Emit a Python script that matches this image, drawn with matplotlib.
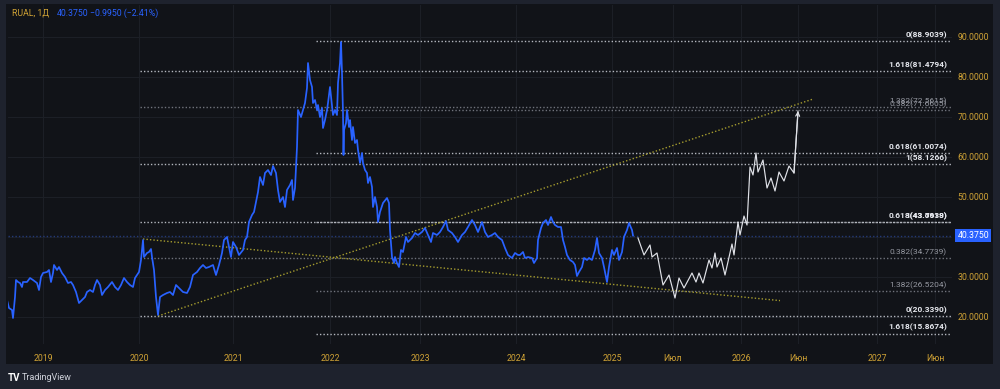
import matplotlib
matplotlib.use("Agg")
import matplotlib.pyplot as plt
from matplotlib.patches import Rectangle

plt.rcParams['font.family'] = ['Roboto', 'DejaVu Sans']

# ---------------- data ----------------
# time index (chart bar position units)
t_hist = [7, 9, 12, 13, 15, 16, 18, 20, 22, 23, 27, 30, 33, 37, 39, 41, 43, 47, 49, 51, 53, 54, 57, 59,
          62, 65, 68, 71, 73, 76, 79, 82, 85, 87, 90, 93, 95, 97, 100, 102, 105, 108, 112, 115, 118,
          121, 124, 127, 130, 133, 135, 137, 139, 141, 143, 144, 147, 149, 151, 152, 154, 156, 158,
          160, 163, 167, 170, 173, 176, 179, 183, 187, 190, 193, 197, 200, 203, 206, 209, 213, 216,
          219, 222, 224, 227, 229, 231, 233, 236, 239, 243, 245, 247, 249, 252, 254, 256, 258, 260,
          263, 265, 268, 271, 273, 276, 278, 280, 283, 285, 287, 290, 292, 293, 295, 297,
          298, 301, 303, 305, 307, 308, 310, 312, 313, 315, 317, 318, 320, 322, 323, 325, 327, 328,
          330, 332, 333, 335, 337, 338, 340, 341, 342, 343, 343.5, 344, 346, 347, 349, 350, 352, 353,
          355, 357, 358, 360, 362, 363, 365, 367, 368, 370, 372, 373, 375, 377, 378, 380, 383, 387,
          389, 390, 392, 394, 395, 397, 399, 401, 403, 406, 408, 412, 415, 418, 422, 425, 428, 431,
          433, 437, 440, 443, 446, 448, 452, 455, 458, 462, 465, 468, 472, 475, 478, 482, 485, 488,
          492, 495, 498, 502, 505, 508, 512, 515, 518, 520, 523, 525, 528, 532, 534, 537, 538, 541,
          543, 546, 548, 551, 553, 555, 558, 561, 563, 565, 567, 570, 573, 575, 577, 579, 582, 584,
          587, 589, 592, 595, 597, 599, 602, 604, 607, 609, 612, 614, 617, 619, 622, 624, 627, 629,
          632, 633]
price_hist = [24.25, 22.25, 21.75, 19.75, 25.0, 29.25, 28.75, 28.5, 27.5, 28.75, 28.75, 29.75, 29.25,
              28.5, 26.75, 30.0, 31.0, 31.25, 31.75, 28.75, 31.0, 33.0, 31.75, 32.5, 31.0, 30.0, 28.5,
              28.75, 28.0, 26.25, 23.5, 24.25, 25.0, 26.25, 26.75, 26.25, 28.0, 29.25, 28.0, 25.5,
              26.75, 27.5, 28.75, 27.5, 26.75, 28.0, 29.75, 28.75, 28.0, 27.5, 29.75, 30.5, 31.25,
              34.25, 39.25, 35.0, 36.0, 36.25, 37.0, 35.0, 31.75, 25.0, 20.5,
              25.0, 25.5, 26.0, 26.25, 25.5, 28.0, 27.25, 26.25, 26.0, 27.5, 30.5, 31.25, 32.25, 33.0,
              32.25, 32.5, 33.0, 30.5, 33.0, 36.0, 39.25, 40.0, 37.5, 35.0, 38.75, 37.5, 35.5, 36.75,
              39.25, 40.0, 43.75, 45.5, 46.25, 48.75, 51.25, 55.0, 53.0, 56.0, 56.75, 55.5, 57.75,
              56.0, 51.75, 48.75, 50.0, 47.5, 51.75, 53.0, 54.25, 49.25, 52.25, 62.5,
              71.75, 70.0, 71.75, 73.5, 77.25, 83.5, 79.25, 77.5, 73.5, 74.25, 71.75, 73.0, 70.0,
              72.25, 67.25, 69.25, 71.75, 73.5, 77.5, 73.0, 70.5, 71.75, 70.5, 78.5, 83.5, 88.75,
              81.0, 71.0, 60.5, 66.75, 68.5, 71.75, 67.5, 69.25, 64.25, 67.5, 63.5, 64.25, 61.75,
              58.5, 61.0, 58.5, 56.75, 56.0, 53.5, 55.0, 52.5, 47.5, 50.0, 47.5, 43.75, 46.25, 48.5,
              49.75, 48.5, 41.75, 35.0, 33.5, 35.0, 33.5, 32.5, 36.75, 36.25, 40.0, 38.75, 39.75,
              41.0, 40.5, 41.25, 42.25, 40.5, 38.75, 41.0, 40.5, 41.25, 42.5, 44.0, 41.75, 41.0, 40.0,
              38.75, 40.5, 41.25, 42.5, 44.25, 43.0, 41.25, 43.75, 41.25, 40.0, 40.5, 41.0, 40.0,
              39.25, 37.25, 35.5, 34.75, 36.0, 35.5, 35.5, 36.25, 34.75, 35.0, 34.75, 33.5, 34.75,
              39.25, 42.25, 43.5, 44.25, 43.0, 45.0, 43.75, 43.0, 42.5, 42.5, 39.25, 37.5, 35.5,
              34.25, 33.75, 33.0, 30.25, 31.25, 32.5, 34.75, 34.25, 34.75, 34.25, 36.75, 39.75, 36.0,
              34.75, 32.5, 28.75, 32.5, 36.75, 35.5, 37.25, 34.25, 36.25, 40.0, 41.75, 43.5, 41.75,
              40.375]

# projected path (drawn in white)
t_fc = [638, 644, 650, 652, 657, 663, 669, 675, 679, 684, 692, 696, 699, 703, 709, 712, 715, 717,
        721, 725, 732, 734, 738, 740, 744, 747, 750, 753, 756, 758, 763, 767, 771, 775, 779, 784,
        789, 794, 798]
price_fc = [39.75, 35.5, 38.0, 35.0, 36.0, 28.0, 30.5, 24.75, 29.75, 27.25, 31.0, 28.75, 31.0, 28.5,
            34.25, 32.25, 36.0, 32.5, 34.75, 30.5, 38.25, 35.5, 43.75, 40.5, 45.25, 43.0, 57.5, 55.5,
            61.0, 56.25, 59.25, 52.25, 54.75, 51.5, 56.25, 54.0, 57.75, 56.0, 71.5]

last_price = 40.375

# Fibonacci set A (anchored at 2020 low)
fibA_start = 140
fibA_levels = ["0", "0.382", "0.618", "1", "1.382", "1.618"]
fibA_prices = [20.3390, 34.7739, 43.6918, 58.1266, 72.5615, 81.4794]
fibA_bright = [True, False, True, True, False, True]

# Fibonacci set B (anchored at 2022 high)
fibB_start = 316
fibB_levels = ["0", "0.382", "0.618", "1", "1.382", "1.618"]
fibB_prices = [88.9039, 71.6605, 61.0074, 43.7639, 26.5204, 15.8674]
fibB_bright = [True, False, True, True, False, True]
fib_end = 951

# trend lines
trend_down_t = [143, 780]
trend_down_p = [39.5, 24.1]
trend_up_t = [158, 812]
trend_up_p = [20.25, 74.4]

# axis ticks
xtick_pos = [43, 139, 233, 330, 420, 516, 612, 673, 741, 798, 877, 935]
xtick_lab = ["2019", "2020", "2021", "2022", "2023", "2024", "2025", "Июл", "2026", "Июн", "2027", "Июн"]
ytick_vals = [20, 30, 40, 50, 60, 70, 80, 90]

# ---------------- style ----------------
W, H = 1000, 389
OUTER = '#1e222d'
BG = '#111318'
GOLD = '#cfa235'
BLUE = '#2962ff'
BRIGHT_TXT = '#e6e8ee'
GREY_TXT = '#9598a1'
BRIGHT_LN = '#b4b7bf'
GREY_LN = '#70737c'
TREND = '#a59c2e'

fig = plt.figure(figsize=(W / 100, H / 100), dpi=100, facecolor=OUTER)
panel = Rectangle((6 / W, (H - 364) / H), 987 / W, 360 / H,
                  transform=fig.transFigure, facecolor=BG, edgecolor='none', zorder=-10)
fig.patches.append(panel)

ax = fig.add_axes([8 / W, (H - 344) / H, 944 / W, 339 / H])
ax.set_facecolor('none')
for s in ax.spines.values():
    s.set_visible(False)
ax.set_xlim(8, 952)
ax.set_ylim(13.25, 98)

ax.set_xticks(xtick_pos)
ax.set_xticklabels(xtick_lab)
ax.set_yticks(ytick_vals)
# the 40 label sits under the last-price tag, as in the original
ax.set_yticklabels(["" if abs(v - last_price) < 3 else f"{v:.4f}" for v in ytick_vals])
ax.yaxis.tick_right()
ax.tick_params(axis='both', length=0, colors=GOLD, labelsize=6.3)
ax.tick_params(axis='x', pad=7)
ax.tick_params(axis='y', pad=4)
ax.grid(True, color='#1c1f26', lw=0.8, zorder=0)
ax.set_axisbelow(True)

# last price line
ax.axhline(last_price, color='#243a78', ls=(0, (1, 1.5)), lw=1, zorder=1)

# fib lines
for start, levels, prices, bright in [(fibA_start, fibA_levels, fibA_prices, fibA_bright),
                                      (fibB_start, fibB_levels, fibB_prices, fibB_bright)]:
    for lv, p, b in zip(levels, prices, bright):
        ax.plot([start, fib_end], [p, p], color=BRIGHT_LN if b else GREY_LN,
                ls=(0, (1, 1.5)), lw=1, zorder=2)
        ax.annotate(f"{lv}({p:.4f})", xy=(947, p), xytext=(0, 1.5), textcoords='offset points',
                    ha='right', va='bottom', fontsize=6, fontweight='bold' if b else 'normal',
                    color=BRIGHT_TXT if b else GREY_TXT, zorder=5)

# trend lines
ax.plot(trend_down_t, trend_down_p, color=TREND, ls=(0, (1, 1.5)), lw=1, zorder=2)
ax.plot(trend_up_t, trend_up_p, color=TREND, ls=(0, (1, 1.5)), lw=1, zorder=2)

# price history
ax.plot(t_hist, price_hist, color=BLUE, lw=1.25, zorder=4, solid_joinstyle='round')

# projection
ax.plot(t_fc, price_fc, color='#e0e2e8', lw=0.85, zorder=4)
ax.annotate('', xy=(t_fc[-1], price_fc[-1]), xytext=(t_fc[-2], price_fc[-2]),
            arrowprops=dict(arrowstyle='->', color='#e0e2e8', lw=0.85, mutation_scale=7,
                            shrinkA=0, shrinkB=0), zorder=4)

# last price tag
ax.annotate(f"{last_price:.4f}", xy=(1.0, last_price), xycoords=('axes fraction', 'data'),
            xytext=(4, 0), textcoords='offset points', ha='left', va='center', fontsize=6.3,
            color='white', bbox=dict(boxstyle='square,pad=0.25', facecolor=BLUE, edgecolor='none'),
            annotation_clip=False, zorder=6)

# header
fig.text(12 / W, 1 - 13 / H, "RUAL, 1Д", color=GOLD, fontsize=6.3, va='center', ha='left')
fig.text(57 / W, 1 - 13 / H, "40.3750", color=BLUE, fontsize=6.3, va='center', ha='left')
fig.text(90 / W, 1 - 13 / H, "\u22120.9950 (\u22122.41%)", color=BLUE, fontsize=6.3, va='center', ha='left')

# footer logo
fig.text(8 / W, 1 - 378 / H, "TV", color='white', fontsize=7, fontweight='bold', va='center', ha='left')
fig.text(22 / W, 1 - 378 / H, "TradingView", color='#d1d4dc', fontsize=6.5, va='center', ha='left')

fig.savefig("out.png", dpi=100, facecolor=OUTER)
